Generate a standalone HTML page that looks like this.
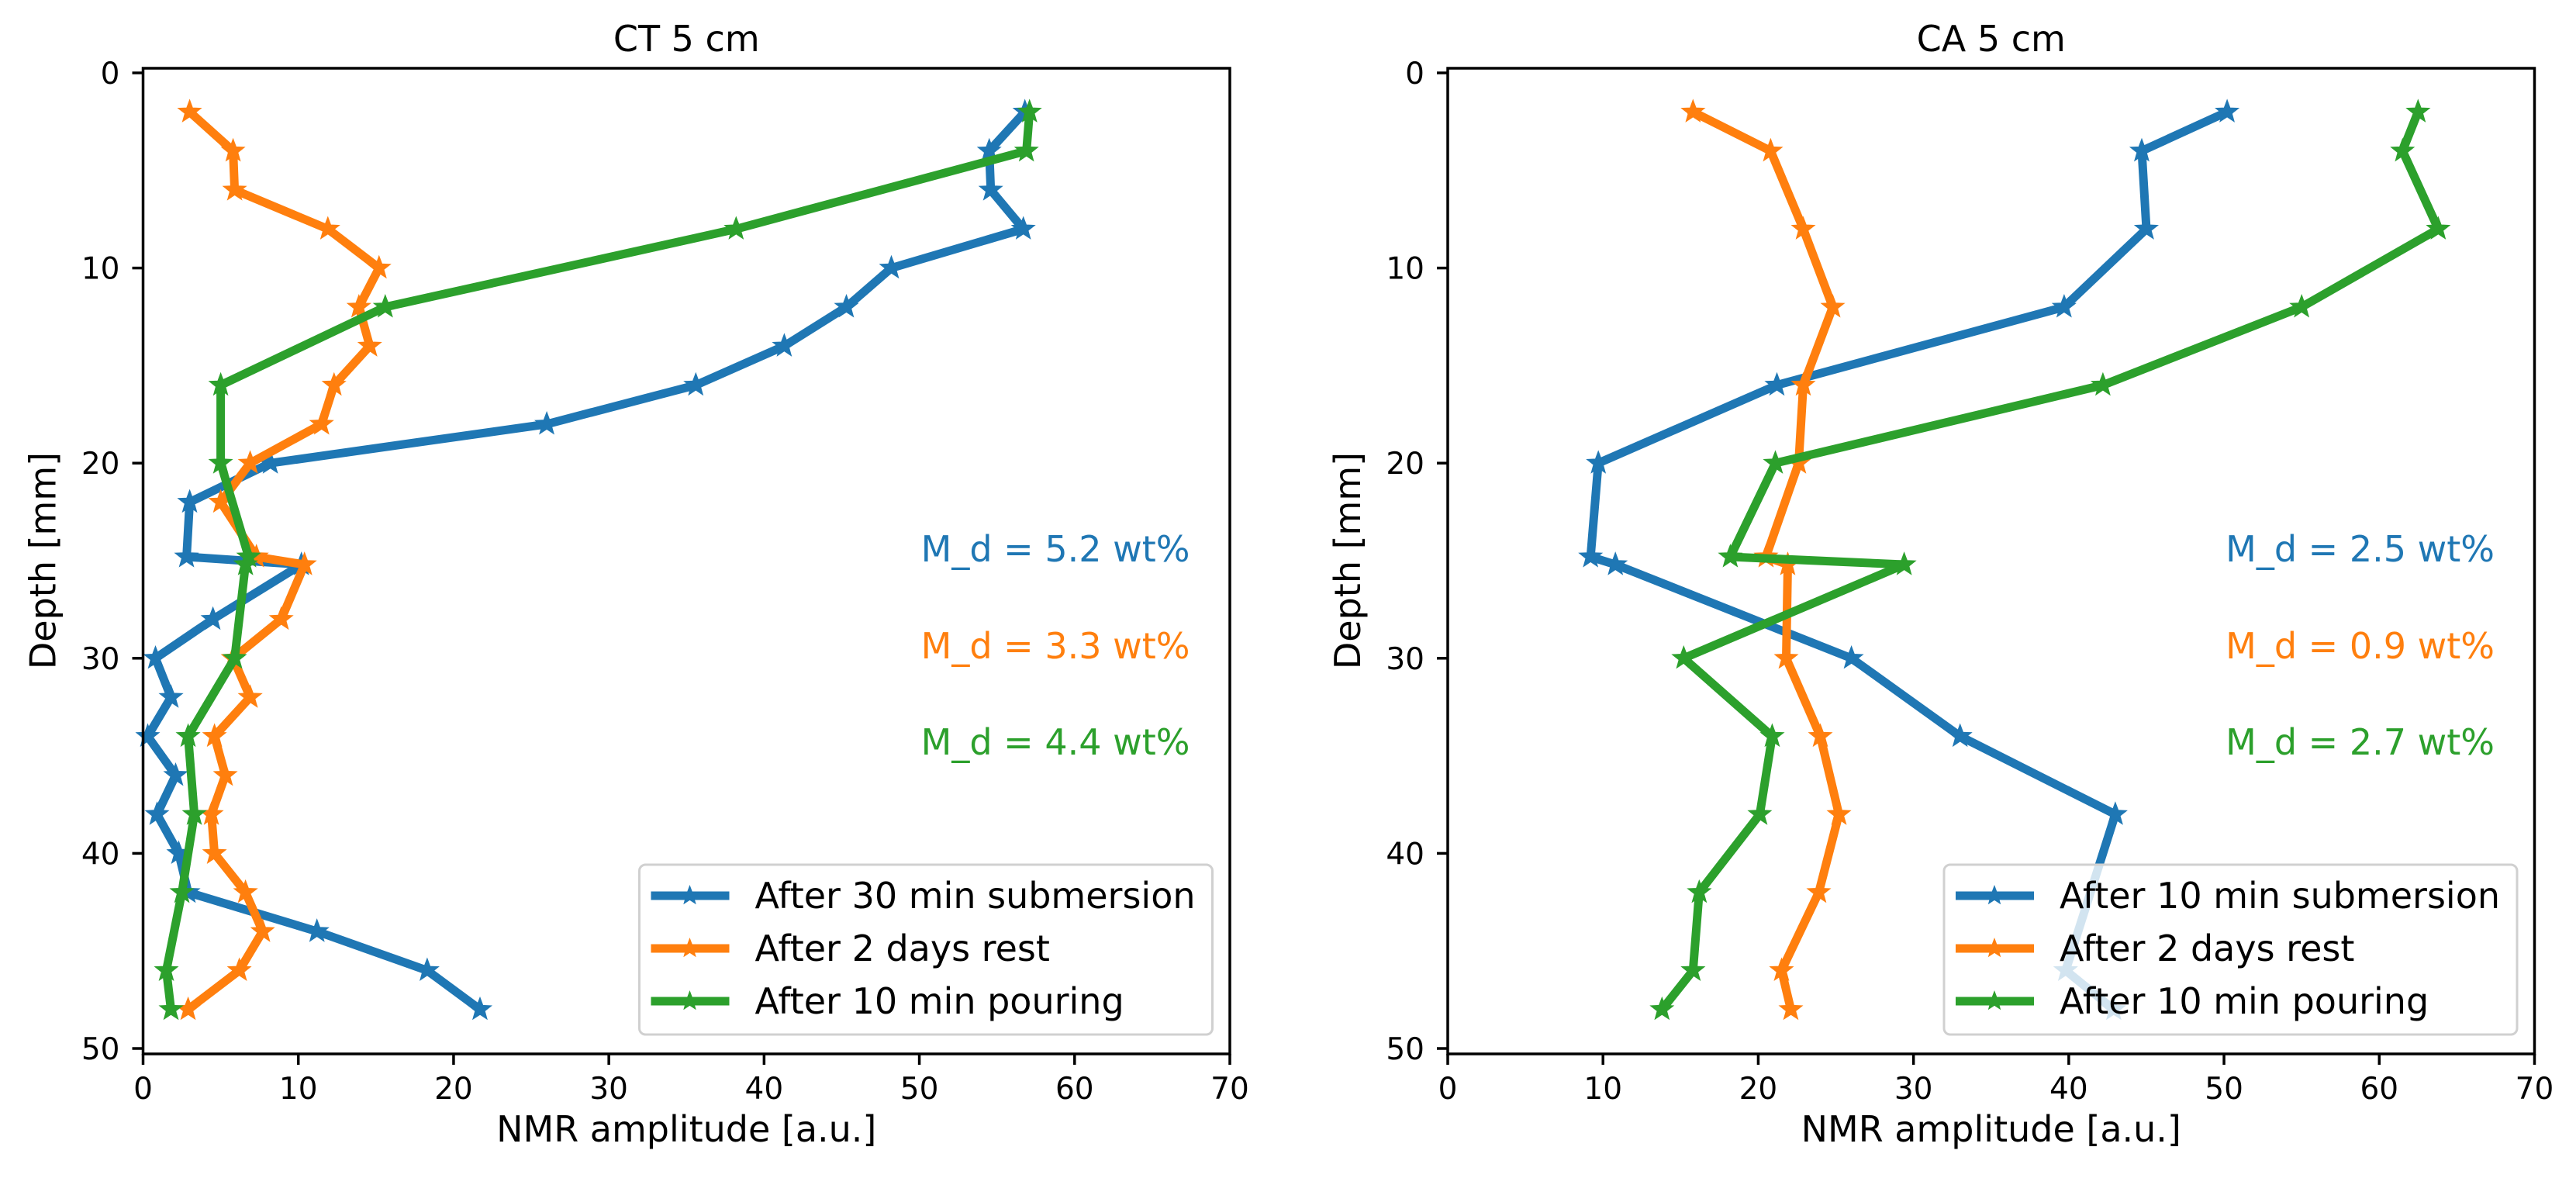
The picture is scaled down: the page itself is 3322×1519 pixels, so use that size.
<!DOCTYPE html>
<html><head><meta charset="utf-8"><style>
html,body{margin:0;padding:0;background:#fff;}
svg{display:block;font-family:"DejaVu Sans","Liberation Sans",sans-serif;}
</style></head><body>
<svg id="fig" width="3322" height="1519" viewBox="0 0 3322 1519" xmlns="http://www.w3.org/2000/svg"></svg>
<script>
const xTicks=[0,10,20,30,40,50,60,70];
const yTicks=[0,10,20,30,40,50];
// CT 5 cm
const ctDepthA=[2,4,6,8,10,12,14,16,18,20,22,24.8,25.2,28,30,32,34,36,38,40,42,44,46,48];
const ctSubmersion=[56.8,54.5,54.6,56.7,48.2,45.3,41.3,35.6,26,8.2,3.0,2.8,10.2,4.5,0.8,1.8,0.3,2.1,0.9,2.3,2.9,11.2,18.3,21.7];
const ctRest=[3.0,5.8,5.9,11.9,15.2,13.9,14.6,12.3,11.5,6.9,5.0,7.3,10.4,8.9,5.8,6.9,4.6,5.3,4.4,4.6,6.6,7.7,6.2,2.9];
const ctDepthB=[2,4,8,12,16,20,24.8,25.2,30,34,38,42,46,48];
const ctPouring=[57.1,56.9,38.2,15.6,5.0,5.0,6.8,6.6,5.9,2.9,3.3,2.5,1.5,1.8];
// CA 5 cm
const caDepthA=[2,4,8,12,16,20,24.8,25.2,30,34,38,46,48];
const caSubmersion=[50.2,44.7,45.0,39.7,21.2,9.7,9.2,10.8,26.0,33.0,43.0,39.8,42.9];
const caDepthB=[2,4,8,12,16,20,24.8,25.2,30,34,38,42,46,48];
const caRest=[15.8,20.8,22.9,24.8,22.9,22.6,20.5,21.9,21.8,24.0,25.2,23.9,21.5,22.1];
const caPouring=[62.5,61.5,63.8,55.0,42.2,21.1,18.2,29.4,15.2,20.9,20.1,16.2,15.8,13.8];
const labelsCT=["After 30 min submersion","After 2 days rest","After 10 min pouring"];
const labelsCA=["After 10 min submersion","After 2 days rest","After 10 min pouring"];
const mdCT=["M_d = 5.2 wt%","M_d = 3.3 wt%","M_d = 4.4 wt%"];
const mdCA=["M_d = 2.5 wt%","M_d = 0.9 wt%","M_d = 2.7 wt%"];
const colors=["#1f77b4","#ff7f0e","#2ca02c"];

const NS="http://www.w3.org/2000/svg";
const svg=document.getElementById('fig');
function mk(tag,attrs,parent){const e=document.createElementNS(NS,tag);for(const k in attrs)e.setAttribute(k,attrs[k]);(parent||svg).appendChild(e);return e;}
function star(cx,cy,r){let p=[];for(let i=0;i<10;i++){const a=-Math.PI/2+i*Math.PI/5;const rr=i%2?r*0.42:r;p.push((cx+rr*Math.cos(a)).toFixed(1)+','+(cy+rr*Math.sin(a)).toFixed(1));}return p.join(' ');}

function panel(left,title,series,labels,md,name){
  const top=88,bottom=1359,W=1401.5;
  const xs=v=>left+v*W/70;
  const ys=d=>94+d*25.16;
  const g=mk('g',{});
  
  
  series.forEach((s,i)=>{
    const sg=mk('g',{},g);
    
    
    const pts=s.v.map((v,j)=>xs(v).toFixed(1)+','+ys(s.d[j]).toFixed(1)).join(' ');
    mk('polyline',{points:pts,fill:'none',stroke:colors[i],'stroke-width':11,'stroke-linejoin':'round','stroke-linecap':'square'},sg);
    s.v.forEach((v,j)=>{const m=mk('polygon',{points:star(xs(v),ys(s.d[j]),14),fill:colors[i],stroke:colors[i],'stroke-width':2},sg);
      
      });
  });
  const fr=mk('rect',{x:left,y:top,width:W,height:bottom-top,fill:'none',stroke:'#000','stroke-width':3.5},g);
  
  
  xTicks.forEach(t=>{const x=xs(t);mk('line',{x1:x,y1:bottom,x2:x,y2:bottom+14,stroke:'#000','stroke-width':3.5},g);
    const tx=mk('text',{x:x,y:1417,'font-size':39,'text-anchor':'middle'},g);tx.textContent=t;
    
    });
  yTicks.forEach(t=>{const y=ys(t);mk('line',{x1:left-14,y1:y,x2:left,y2:y,stroke:'#000','stroke-width':3.5},g);
    const tx=mk('text',{x:left-30,y:y+14,'font-size':39,'text-anchor':'end'},g);tx.textContent=t;
    
    });
  const ti=mk('text',{x:left+W/2,y:66,'font-size':46,'text-anchor':'middle'},g);ti.textContent=title;
  
  
  const xl=mk('text',{x:left+W/2,y:1472,'font-size':46,'text-anchor':'middle'},g);xl.textContent='NMR amplitude [a.u.]';
  
  
  const yl=mk('text',{x:0,y:0,'font-size':46,'text-anchor':'middle',transform:`translate(${left-113},723) rotate(-90)`},g);yl.textContent='Depth [mm]';
  
  
  [724,849,973].forEach((y,i)=>{const t=mk('text',{x:left+1350,y:y,'font-size':46,'text-anchor':'end',fill:colors[i]},g);t.textContent=md[i];
    
    });
  const lg=mk('g',{},g);
  
  
  mk('rect',{x:left+640,y:1115,width:739,height:219,rx:8,fill:'#fff','fill-opacity':0.8,stroke:'#d0d0d0','stroke-width':3},lg);
  [1155,1223,1291].forEach((y,i)=>{
    const e=mk('g',{},lg);
    
    
    mk('line',{x1:left+655,y1:y,x2:left+756,y2:y,stroke:colors[i],'stroke-width':11},e);
    mk('polygon',{points:star(left+705,y,14),fill:colors[i]},e);
    const t=mk('text',{x:left+789,y:y+16,'font-size':46},e);t.textContent=labels[i];
  });
}
panel(184.5,'CT 5 cm',[{d:ctDepthA,v:ctSubmersion},{d:ctDepthA,v:ctRest},{d:ctDepthB,v:ctPouring}],labelsCT,mdCT,'ct-panel');
panel(1867,'CA 5 cm',[{d:caDepthA,v:caSubmersion},{d:caDepthB,v:caRest},{d:caDepthB,v:caPouring}],labelsCA,mdCA,'ca-panel');
</script>
</body></html>
